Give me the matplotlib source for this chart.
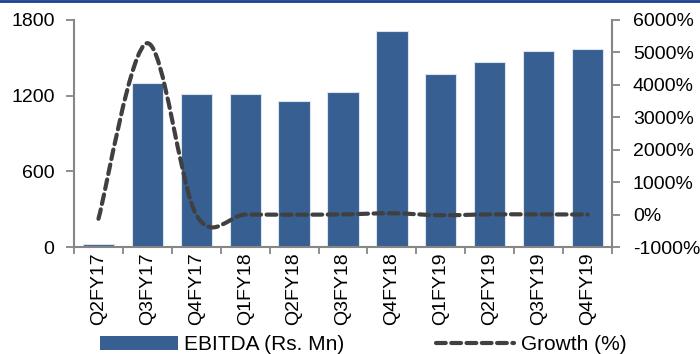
import matplotlib
matplotlib.use("Agg")
import matplotlib.pyplot as plt
from matplotlib.path import Path
from matplotlib.patches import PathPatch, Patch
from matplotlib.lines import Line2D
from matplotlib.ticker import FuncFormatter, FixedLocator
import numpy as np

plt.rcParams['font.family'] = ['Liberation Sans', 'DejaVu Sans']
plt.rcParams['lines.scale_dashes'] = False

quarters = ["Q2FY17", "Q3FY17", "Q4FY17", "Q1FY18", "Q2FY18", "Q3FY18",
            "Q4FY18", "Q1FY19", "Q2FY19", "Q3FY19", "Q4FY19"]
ebitda = [24, 1302, 1211, 1211, 1159, 1230, 1716, 1374, 1463, 1553, 1571]
growth = [-130, 5285, -7, 0, -4, 6, 40, -20, 6, 6, 1]

bar_color = "#375f92"
line_color = "#404040"
spine_color = "#868686"
fs = 14
legend_fs = 15

fig = plt.figure(figsize=(7.0, 3.54), dpi=100)
ax = fig.add_axes([74 / 700, 1 - 247 / 354, (612 - 74) / 700, (247 - 20) / 354])
ax2 = ax.twinx()

x = np.arange(len(quarters))
ax.bar(x, ebitda, width=0.64, color=bar_color, edgecolor="#dbe3ee",
       linewidth=0.8, zorder=2)
ax.set_xlim(-0.5, len(quarters) - 0.5)
ax.set_ylim(0, 1800)
ax.set_yticks([0, 600, 1200, 1800])
ax.set_xticks(x)
ax.set_xticklabels(quarters, rotation=90, fontsize=fs)
ax.xaxis.set_minor_locator(FixedLocator(np.arange(-0.5, len(quarters) + 0.5, 1)))
ax.tick_params(axis="x", which="major", length=0, pad=4)
ax.tick_params(axis="x", which="minor", length=5, width=1.3, color=spine_color,
               direction="out")
ax.tick_params(axis="y", length=6, width=1.3, color=spine_color, labelsize=fs,
               pad=8)

ax2.set_ylim(-1000, 6000)
ax2.set_yticks(np.arange(-1000, 6001, 1000))
ax2.yaxis.set_major_formatter(FuncFormatter(lambda v, p: f"{int(v)}%"))
ax2.tick_params(axis="y", length=6, width=1.3, color=spine_color, labelsize=fs,
                pad=9)

for a in (ax, ax2):
    a.spines["top"].set_visible(False)
    for s in ("left", "right", "bottom"):
        a.spines[s].set_color(spine_color)
        a.spines[s].set_linewidth(1.5)
ax.spines["right"].set_visible(False)
ax2.spines["left"].set_visible(False)
ax2.spines["bottom"].set_visible(False)

# Smoothed growth curve (cubic Bezier through each point)
n = len(growth)
pts = [(float(i), float(g)) for i, g in zip(x, growth)]
verts = [pts[0]]
codes = [Path.MOVETO]
for i in range(n - 1):
    p_prev = pts[max(i - 1, 0)]
    p0 = pts[i]
    p1 = pts[i + 1]
    p_next = pts[min(i + 2, n - 1)]
    c1 = (p0[0] + (p1[0] - p_prev[0]) / 6, p0[1] + (p1[1] - p_prev[1]) / 6)
    c2 = (p1[0] - (p_next[0] - p0[0]) / 6, p1[1] - (p_next[1] - p0[1]) / 6)
    verts += [c1, c2, p1]
    codes += [Path.CURVE4] * 3
dash = (0, (7.0, 4.0))
curve = PathPatch(Path(verts, codes), fill=False, edgecolor=line_color,
                  linewidth=3.0, linestyle=dash, capstyle="round", zorder=3)
ax2.add_patch(curve)

# Legend
handles = [Patch(facecolor=bar_color, edgecolor="none"),
           Line2D([], [], color=line_color, linewidth=3.0, linestyle=dash,
                  dash_capstyle="round")]
fig.legend(handles, ["EBITDA (Rs. Mn)", "Growth (%)"], loc="lower left",
           bbox_to_anchor=(100 / 700, 0.0), ncol=2, frameon=False,
           fontsize=legend_fs, handlelength=3.75, handleheight=0.67,
           handletextpad=0.3, columnspacing=4.4, borderpad=0.0,
           borderaxespad=0.0)

# Top rule
fig.add_artist(Line2D([0, 1], [0.998, 0.998], transform=fig.transFigure,
                      color="#1e3f8e", linewidth=2.0))

fig.savefig("out.png", dpi=100)
